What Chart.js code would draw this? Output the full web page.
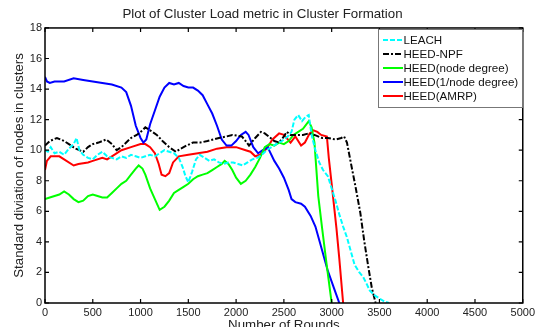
<!DOCTYPE html>
<html>
<head>
<meta charset="utf-8">
<script src="https://cdn.jsdelivr.net/npm/chart.js@4/dist/chart.umd.min.js"></script>
<style>
  html, body { margin: 0; padding: 0; background: #fff; }
  #wrap { width: 538px; height: 327px; }
</style>
</head>
<body>
<div id="wrap"><canvas id="c" width="538" height="327"></canvas></div>
<script>
// ---- data ----
const chartTitle = "Plot of Cluster Load metric in Cluster Formation";
const xTitle = "Number of Rounds";
const yTitle = "Standard diviation of nodes in clusters";
const seriesNames = ["LEACH", "HEED-NPF", "HEED(node degree)", "HEED(1/node degree)", "HEED(AMRP)"];
const xTicks = [0, 500, 1000, 1500, 2000, 2500, 3000, 3500, 4000, 4500, 5000];
const yTicks = [0, 2, 4, 6, 8, 10, 12, 14, 16, 18];

const leachRounds = [0,30,60,100,150,200,250,300,330,360,400,450,500,550,600,650,700,750,800,850,900,950,1000,1050,1100,1150,1200,1250,1300,1350,1400,1440,1470,1500,1540,1580,1620,1670,1720,1770,1820,1870,1920,1970,2020,2070,2120,2170,2220,2270,2320,2370,2420,2480,2540,2580,2610,2650,2690,2730,2760,2790,2830,2870,2910,2960,3000,3040,3080,3120,3160,3200,3240,3290,3330,3370,3400,3450,3500,3550,3600];
const leachValues = [10.0,9.9,10.2,9.8,9.9,9.7,10.1,10.4,10.8,10.0,9.7,9.5,9.4,9.7,9.9,9.6,9.5,9.4,9.6,9.5,9.7,9.6,9.5,9.6,9.7,9.6,9.8,10.0,9.9,9.8,9.5,8.9,8.3,7.9,8.6,9.4,9.7,9.5,9.3,9.4,9.2,9.1,9.2,9.2,9.1,9.0,9.2,9.4,9.5,9.7,10.0,10.2,10.4,10.6,10.9,11.2,12.0,12.3,11.9,12.2,12.3,11.0,10.0,9.2,8.7,8.3,7.5,6.7,5.8,5.0,4.3,3.4,2.5,2.0,1.7,1.2,0.8,0.5,0.3,0.1,0.0];

const npfRounds = [0,50,125,200,250,320,400,450,500,560,640,700,750,800,850,900,960,1020,1050,1100,1170,1230,1300,1370,1420,1480,1550,1625,1700,1760,1820,1900,1960,2060,2100,2135,2200,2260,2300,2340,2400,2450,2500,2530,2570,2620,2700,2760,2820,2900,2960,3040,3100,3130,3160,3200,3250,3300,3340,3380,3420,3460];
const npfValues = [10.3,10.6,10.8,10.6,10.4,10.1,9.9,10.2,10.4,10.5,10.7,10.4,10.0,10.2,10.5,10.8,11.0,11.3,11.5,11.3,11.0,10.6,10.2,9.9,10.1,10.3,10.5,10.5,10.6,10.7,10.8,10.9,11.0,10.9,10.6,10.3,10.8,11.2,11.1,10.9,10.6,10.5,10.9,11.2,11.0,11.0,11.0,11.1,11.0,10.8,10.8,10.7,10.8,10.9,10.5,9.2,7.6,5.9,4.1,2.5,1.0,0.0];

const degreeRounds = [0,50,100,150,200,250,300,350,400,450,500,550,600,650,700,750,800,850,900,950,980,1020,1050,1100,1150,1200,1250,1300,1350,1400,1450,1500,1550,1600,1650,1700,1750,1800,1850,1880,1920,1960,2000,2050,2100,2150,2200,2250,2300,2350,2400,2450,2500,2550,2600,2650,2700,2760,2790,2820,2860,2900,2950,3000];
const degreeValues = [6.8,6.9,7.0,7.1,7.3,7.1,6.8,6.6,6.7,7.0,7.1,7.0,6.9,6.9,7.2,7.5,7.8,8.0,8.4,8.8,9.0,8.8,8.4,7.5,6.8,6.1,6.3,6.7,7.2,7.4,7.6,7.8,8.1,8.3,8.4,8.5,8.7,8.9,9.1,9.3,9.1,8.7,8.2,7.8,8.0,8.4,8.9,9.5,10.2,10.4,10.3,10.5,10.4,10.6,11.0,11.2,11.4,11.9,11.5,10.5,7.0,4.9,2.4,0.0];

const invDegreeRounds = [0,20,50,100,200,300,400,500,600,700,800,850,900,950,1000,1030,1060,1100,1150,1200,1250,1300,1350,1400,1450,1500,1550,1600,1650,1700,1750,1800,1850,1900,1950,2000,2050,2100,2130,2180,2230,2280,2330,2400,2450,2500,2550,2580,2620,2680,2720,2780,2830,2880,2920,2960,3000,3040,3080];
const invDegreeValues = [14.8,14.5,14.4,14.5,14.5,14.7,14.6,14.5,14.4,14.3,14.1,13.8,12.9,11.6,10.8,10.5,10.7,11.7,12.6,13.5,14.1,14.4,14.3,14.4,14.2,14.1,14.1,13.9,13.6,13.0,12.4,11.6,10.7,10.3,10.3,10.6,11.0,11.2,11.0,10.2,9.8,10.0,10.2,9.3,8.8,8.2,7.4,6.8,6.6,6.5,6.3,5.7,5.0,3.9,3.0,2.1,1.4,0.7,0.0];

const amrpRounds = [0,20,60,150,200,300,350,450,500,600,650,700,800,900,1000,1050,1100,1150,1190,1220,1260,1300,1340,1400,1500,1600,1700,1800,1900,2000,2100,2150,2200,2250,2320,2380,2450,2500,2570,2620,2680,2720,2770,2810,2850,2890,2950,2970,3000,3050,3080,3120];
const amrpValues = [8.7,9.3,9.6,9.6,9.4,9.0,9.1,9.2,9.3,9.5,9.4,9.6,10.0,10.2,10.4,10.4,10.2,9.8,9.1,8.4,8.3,8.5,9.2,9.6,9.7,9.8,9.9,10.1,10.2,10.2,10.0,9.9,9.6,9.7,10.1,10.7,11.1,11.0,10.5,10.9,10.3,10.5,11.1,11.3,11.2,11.0,10.9,9.5,7.8,4.9,2.9,0.0];

const seriesRounds = [leachRounds, npfRounds, degreeRounds, invDegreeRounds, amrpRounds];
const seriesValues = [leachValues, npfValues, degreeValues, invDegreeValues, amrpValues];
const seriesColors = ["#00ffff", "#000000", "#00ff00", "#0000ff", "#ff0000"];
const seriesDashes = [[5, 2], [6, 2, 2, 2], [], [], []];

const FONT = "'Liberation Sans', Arial, Helvetica, sans-serif";
const LABEL_SIZE = 13.3;

const datasets = seriesNames.map((name, i) => ({
  label: name,
  data: seriesRounds[i].map((r, k) => ({ x: r, y: seriesValues[i][k] })),
  borderColor: seriesColors[i],
  backgroundColor: seriesColors[i],
  borderWidth: 2,
  borderDash: seriesDashes[i],
  pointRadius: 0,
  tension: 0,
  fill: false
}));

const framePlugin = {
  id: 'frame',
  afterDraw(chart) {
    const ctx = chart.ctx;
    const a = chart.chartArea;
    const xs = chart.scales.x, ys = chart.scales.y;
    ctx.save();
    // frame
    ctx.strokeStyle = '#000';
    ctx.lineWidth = 1.5;
    ctx.strokeRect(a.left, a.top, a.right - a.left, a.bottom - a.top);
    // inward ticks
    ctx.lineWidth = 1.2;
    const tl = 4;
    ctx.beginPath();
    xTicks.forEach(v => {
      const px = xs.getPixelForValue(v);
      ctx.moveTo(px, a.bottom); ctx.lineTo(px, a.bottom - tl);
      ctx.moveTo(px, a.top); ctx.lineTo(px, a.top + tl);
    });
    yTicks.forEach(v => {
      const py = ys.getPixelForValue(v);
      ctx.moveTo(a.left, py); ctx.lineTo(a.left + tl, py);
      ctx.moveTo(a.right, py); ctx.lineTo(a.right - tl, py);
    });
    ctx.stroke();

    // axis titles
    ctx.fillStyle = '#222';
    ctx.font = LABEL_SIZE + 'px ' + FONT;
    ctx.textAlign = 'center';
    ctx.textBaseline = 'middle';
    ctx.fillText(xTitle, (a.left + a.right) / 2, 325);
    ctx.save();
    ctx.translate(19.5, (a.top + a.bottom) / 2);
    ctx.rotate(-Math.PI / 2);
    ctx.fillText(yTitle, 0, 0);
    ctx.restore();

    // legend box
    const bx = 378, by = 29, bw = 144, bh = 78;
    ctx.fillStyle = '#fff';
    ctx.fillRect(bx, by, bw, bh);
    ctx.strokeStyle = '#777';
    ctx.lineWidth = 1;
    ctx.strokeRect(bx + 0.5, by + 0.5, bw, bh);
    ctx.font = '11.6px ' + FONT;
    ctx.textAlign = 'left';
    ctx.textBaseline = 'middle';
    const rowY = [40, 54, 68, 82, 96];
    seriesNames.forEach((name, i) => {
      const y = rowY[i];
      ctx.strokeStyle = seriesColors[i];
      ctx.lineWidth = 2;
      ctx.setLineDash(seriesDashes[i]);
      ctx.beginPath();
      ctx.moveTo(383, y); ctx.lineTo(403, y);
      ctx.stroke();
      ctx.setLineDash([]);
      ctx.fillStyle = '#111';
      ctx.fillText(name, 403.5, y + 0.5);
    });
    ctx.restore();
  }
};

new Chart(document.getElementById('c'), {
  type: 'line',
  data: { datasets },
  options: {
    responsive: false,
    animation: false,
    layout: { padding: { left: 0, right: 13, top: 0, bottom: 0 } },
    plugins: {
      legend: { display: false },
      tooltip: { enabled: false },
      title: {
        display: true,
        text: chartTitle,
        color: '#222',
        font: { family: FONT, size: LABEL_SIZE, weight: 'normal', lineHeight: 1.2 },
        padding: { top: 6, bottom: 6 }
      }
    },
    scales: {
      x: {
        type: 'linear',
        min: 0, max: 5000,
        afterBuildTicks(scale) { scale.ticks = xTicks.map(v => ({ value: v })); },
        afterFit(scale) { scale.height = 24; },
        grid: { display: false, drawTicks: false },
        border: { display: false },
        ticks: { color: '#222', padding: 3, maxRotation: 0, autoSkip: false,
                 font: { family: FONT, size: 11 }, callback: v => String(v) }
      },
      y: {
        type: 'linear',
        min: 0, max: 18,
        afterBuildTicks(scale) { scale.ticks = yTicks.map(v => ({ value: v })); },
        afterFit(scale) { scale.width = 45; },
        grid: { display: false, drawTicks: false },
        border: { display: false },
        ticks: { color: '#222', padding: 3, autoSkip: false,
                 font: { family: FONT, size: 11 }, callback: v => String(v) }
      }
    }
  },
  plugins: [framePlugin]
});
</script>
</body>
</html>
